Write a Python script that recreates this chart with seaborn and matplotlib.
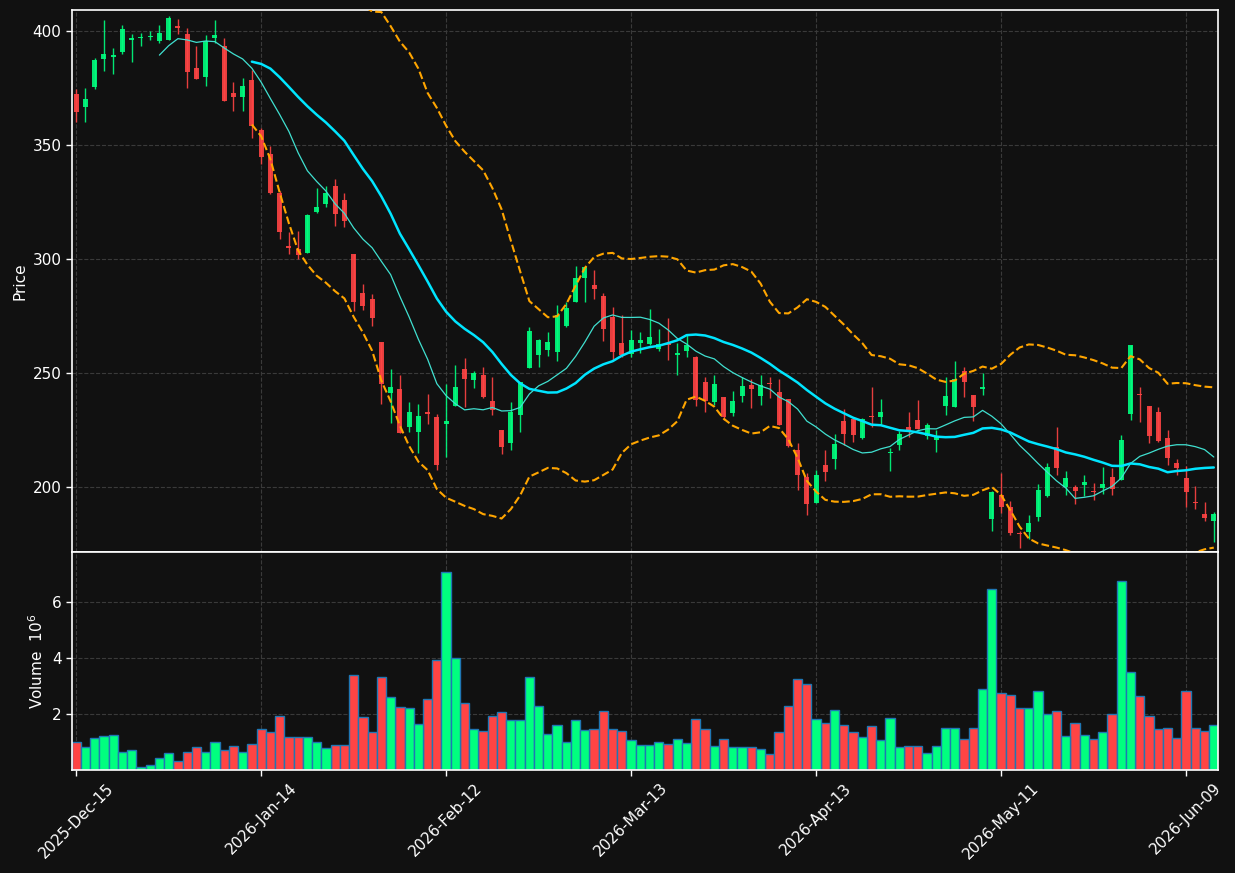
import numpy as np
import pandas as pd
import matplotlib
matplotlib.use("Agg")
import matplotlib.pyplot as plt
import seaborn as sns

# OHLC values (one per trading day)
opens = [372.6, 366.6, 375.7, 388.1, 388.9, 390.9, 396.4, 397.0, 397.6, 395.9,
         396.4, 402.5, 398.9, 384.0, 379.8, 397.2, 393.6, 373.0, 371.3, 378.7,
         356.7, 346.2, 329.2, 305.6, 304.2, 302.8, 320.7, 324.0, 332.1, 326.0,
         302.4, 285.3, 282.6, 263.6, 241.1, 243.1, 226.2, 224.0, 232.6, 230.4,
         227.6, 235.6, 251.9, 246.7, 249.2, 237.8, 225.1, 219.0, 231.3, 252.0,
         257.7, 259.9, 259.1, 270.7, 281.3, 291.8, 288.7, 283.9, 274.6, 263.3,
         258.2, 263.3, 262.5, 260.7, 262.9, 257.7, 259.7, 257.0, 245.8, 237.1,
         239.5, 232.3, 239.7, 244.8, 239.7, 245.6, 241.7, 238.7, 216.3, 204.2,
         192.8, 209.7, 212.1, 229.0, 229.9, 221.3, 230.9, 230.6, 214.8, 218.2,
         226.3, 229.4, 222.3, 220.7, 235.3, 235.1, 250.8, 240.1, 243.0, 185.7,
         196.4, 190.9, 179.6, 180.3, 186.5, 195.9, 217.6, 199.7, 199.7, 200.6,
         198.3, 199.4, 204.4, 202.8, 231.8, 240.9, 235.6, 232.9, 221.2, 210.2,
         203.6, 193.3, 188.2, 185.0]
highs = [374.6, 375.1, 388.2, 404.9, 392.6, 402.7, 398.7, 399.5, 400.2, 402.7,
         406.7, 405.5, 401.6, 393.6, 398.3, 404.9, 397.0, 377.6, 379.5, 383.1,
         357.7, 349.7, 330.0, 311.8, 312.2, 319.7, 331.2, 332.1, 335.3, 329.2,
         302.4, 289.2, 284.8, 263.6, 251.7, 249.1, 237.1, 236.4, 240.8, 232.0,
         245.1, 253.3, 256.7, 250.8, 252.4, 248.0, 225.1, 237.0, 245.8, 270.1,
         264.9, 268.0, 279.8, 281.3, 297.0, 297.0, 295.1, 285.1, 279.0, 275.4,
         268.8, 268.0, 278.2, 269.4, 274.3, 263.0, 266.5, 257.4, 248.1, 248.9,
         239.5, 242.0, 248.4, 247.3, 249.2, 248.3, 247.3, 238.7, 219.4, 206.0,
         207.2, 216.0, 223.2, 234.2, 229.9, 230.1, 243.9, 238.7, 217.0, 224.5,
         232.8, 238.1, 228.1, 225.1, 248.4, 255.2, 252.4, 240.1, 250.0, 198.3,
         206.1, 193.9, 180.7, 187.6, 201.1, 210.5, 226.0, 206.9, 200.9, 205.3,
         201.4, 208.8, 208.3, 222.7, 262.4, 243.6, 235.6, 235.1, 224.9, 212.2,
         209.1, 200.2, 193.4, 188.7]
lows = [360.0, 360.3, 374.9, 382.8, 381.2, 390.0, 386.5, 393.4, 396.1, 394.7,
        396.1, 398.7, 375.1, 379.3, 375.9, 395.1, 369.6, 365.2, 364.9, 353.1,
        341.7, 328.4, 308.8, 302.2, 300.2, 302.5, 320.1, 323.0, 314.4, 314.1,
        277.0, 277.4, 270.5, 236.4, 228.1, 223.4, 224.1, 215.0, 227.6, 207.2,
        213.2, 235.6, 235.1, 243.3, 239.0, 231.5, 214.3, 216.0, 224.1, 252.0,
        252.4, 257.5, 255.2, 270.1, 281.2, 281.2, 282.4, 264.0, 255.8, 257.0,
        257.0, 258.6, 262.2, 259.4, 255.5, 248.9, 257.0, 235.6, 232.8, 235.9,
        229.2, 230.9, 237.1, 234.6, 235.9, 239.0, 227.3, 217.4, 198.4, 187.6,
        192.8, 202.5, 207.8, 218.5, 219.7, 221.0, 226.3, 227.6, 206.9, 216.0,
        221.8, 225.5, 221.0, 215.2, 231.3, 235.1, 239.5, 228.8, 240.1, 180.6,
        188.6, 178.7, 173.2, 177.1, 185.0, 195.6, 205.3, 196.2, 192.5, 195.9,
        194.0, 196.7, 196.2, 202.8, 229.2, 228.5, 219.4, 219.7, 209.4, 205.3,
        190.9, 190.4, 185.0, 175.9]
closes = [364.7, 370.4, 387.5, 390.1, 389.8, 401.1, 397.3, 397.6, 398.1, 399.4,
          406.0, 401.3, 382.0, 379.3, 395.8, 398.4, 369.6, 371.3, 376.0, 358.6,
          345.0, 329.2, 311.8, 304.9, 302.0, 319.4, 322.9, 329.2, 319.6, 316.9,
          281.3, 279.5, 274.0, 245.0, 243.9, 223.4, 232.8, 231.2, 231.8, 209.4,
          228.8, 243.9, 247.2, 250.0, 239.3, 233.5, 217.4, 232.8, 245.8, 268.5,
          264.6, 263.6, 275.6, 278.7, 291.8, 296.7, 286.7, 269.1, 259.1, 257.8,
          264.4, 264.6, 265.8, 262.5, 262.1, 258.9, 262.4, 237.9, 237.5, 245.3,
          230.7, 237.8, 244.4, 242.8, 244.8, 245.0, 227.3, 217.9, 205.0, 192.3,
          205.2, 206.4, 218.8, 223.0, 222.6, 229.6, 230.6, 232.8, 215.3, 223.2,
          224.6, 225.5, 227.3, 222.4, 240.0, 247.5, 245.8, 235.0, 243.9, 197.5,
          191.2, 179.5, 179.1, 183.9, 198.7, 208.8, 208.0, 203.6, 198.3, 202.2,
          197.8, 201.0, 199.1, 220.7, 262.4, 240.1, 222.3, 220.2, 212.5, 208.2,
          197.6, 192.8, 186.2, 188.1]
# volume in millions
volumes = [0.99, 0.81, 1.14, 1.21, 1.25, 0.63, 0.71, 0.10, 0.17, 0.42,
           0.60, 0.32, 0.63, 0.81, 0.63, 0.99, 0.71, 0.85, 0.63, 0.92,
           1.46, 1.35, 1.93, 1.17, 1.17, 1.17, 0.99, 0.78, 0.89, 0.89,
           3.40, 1.89, 1.35, 3.33, 2.61, 2.25, 2.22, 1.64, 2.54, 3.94,
           7.07, 3.98, 2.40, 1.46, 1.39, 1.93, 2.07, 1.78, 1.78, 3.33,
           2.29, 1.28, 1.60, 0.99, 1.78, 1.43, 1.46, 2.11, 1.46, 1.39,
           1.07, 0.89, 0.89, 0.99, 0.92, 1.10, 0.96, 1.82, 1.46, 0.85,
           1.10, 0.81, 0.81, 0.81, 0.74, 0.56, 1.35, 2.29, 3.26, 3.08,
           1.82, 1.68, 2.14, 1.60, 1.35, 1.17, 1.57, 1.07, 1.86, 0.81,
           0.85, 0.85, 0.60, 0.85, 1.50, 1.50, 1.10, 1.50, 2.90, 6.46,
           2.75, 2.68, 2.22, 2.22, 2.83, 2.00, 2.11, 1.21, 1.68, 1.25,
           1.10, 1.35, 2.00, 6.74, 3.51, 2.65, 1.93, 1.46, 1.50, 1.14,
           2.83, 1.50, 1.39, 1.60]
tick_pos = [0, 20, 40, 60, 80, 100, 120]
tick_labels = ['2025-Dec-15', '2026-Jan-14', '2026-Feb-12', '2026-Mar-13',
               '2026-Apr-13', '2026-May-11', '2026-Jun-09']

df = pd.DataFrame({'open': opens, 'high': highs, 'low': lows,
                   'close': closes, 'volume': volumes})
df['idx'] = np.arange(len(df))
df['up'] = df['close'] >= df['open']
df['sma10'] = df['close'].rolling(10).mean()
df['sma20'] = df['close'].rolling(20).mean()
std20 = df['close'].rolling(20).std(ddof=0)
df['bb_up'] = df['sma20'] + 2 * std20
df['bb_lo'] = df['sma20'] - 2 * std20

bg = '#111111'
up_c = '#00ff7f'
dn_c = '#ff4444'

sns.set_theme(style='dark', rc={
    'figure.facecolor': bg, 'axes.facecolor': bg, 'axes.edgecolor': 'white',
    'text.color': 'white', 'axes.labelcolor': 'white',
    'xtick.color': 'white', 'ytick.color': 'white',
    'grid.color': '#3a3a3a', 'grid.linestyle': '--', 'grid.linewidth': 0.8,
})
plt.rcParams['font.family'] = ['DejaVu Sans']

fig = plt.figure(figsize=(12.35, 8.73), dpi=100)
ax = fig.add_axes([0.0583, 0.3677, 0.9279, 0.6208])
axv = fig.add_axes([0.0583, 0.1180, 0.9279, 0.2497], sharex=ax)

# candles
colors = np.where(df['up'], up_c, dn_c)
ax.vlines(df['idx'], df['low'], df['high'], colors=colors, linewidth=1.0, alpha=0.9, zorder=2)
body_lo = np.minimum(df['open'], df['close'])
body_h = np.maximum(np.abs(df['close'] - df['open']), 0.3)
ax.bar(df['idx'], body_h, bottom=body_lo, width=0.55, color=colors, alpha=0.9,
       linewidth=0, zorder=3)

# moving averages and bollinger bands
sns.lineplot(data=df, x='idx', y='sma10', ax=ax, color='#40e0d0', linewidth=0.9, zorder=4)
sns.lineplot(data=df, x='idx', y='sma20', ax=ax, color='#00e5ff', linewidth=1.8, zorder=4)
sns.lineplot(data=df, x='idx', y='bb_up', ax=ax, color='orange', linewidth=1.5,
             linestyle='--', zorder=4)
sns.lineplot(data=df, x='idx', y='bb_lo', ax=ax, color='orange', linewidth=1.5,
             linestyle='--', zorder=4)

# volume
sns.barplot(data=df, x='idx', y='volume', hue='up', palette={True: up_c, False: dn_c},
            dodge=False, native_scale=True, width=1.0, saturation=1,
            edgecolor='#1f77b4', linewidth=1.0, errorbar=None, legend=False, ax=axv)

ax.set_ylim(171.3, 409.4)
ax.set_yticks([200, 250, 300, 350, 400])
ax.set_ylabel('Price', fontsize=11)
ax.set_xlabel('')
axv.set_ylim(0, 7.78)
axv.set_yticks([2, 4, 6])
axv.set_ylabel('Volume  $10^{6}$', fontsize=11)
axv.set_xlabel('')
axv.set_xlim(-0.45, 123.45)
axv.set_xticks(tick_pos)
axv.set_xticklabels(tick_labels, rotation=45, ha='center')
ax.tick_params(labelbottom=False)

for a in (ax, axv):
    a.grid(True, axis='both')
    a.tick_params(axis='both', direction='out', length=4, width=1, labelsize=11,
                  left=True, bottom=True)
    for s in a.spines.values():
        s.set_color('white')
        s.set_linewidth(1.2)

fig.savefig('out.png', dpi=100, facecolor=bg)
